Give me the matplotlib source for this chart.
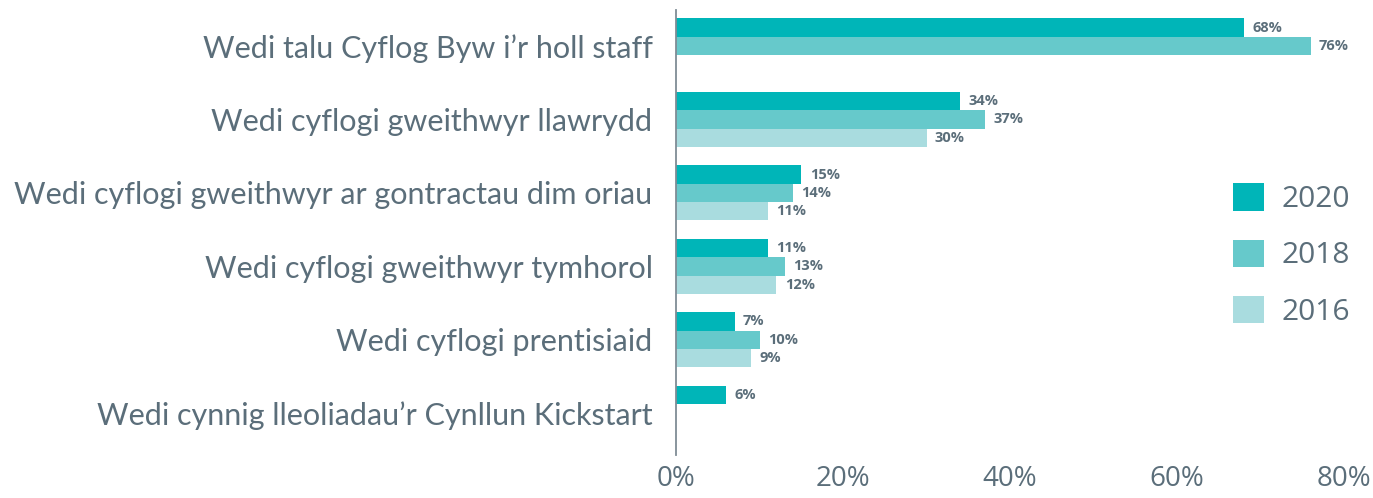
import matplotlib
matplotlib.use("Agg")
import matplotlib.pyplot as plt
from matplotlib.patches import Patch
import numpy as np

plt.rcParams['font.family'] = ['Open Sans', 'DejaVu Sans']

categories = [
    "Wedi talu Cyflog Byw i’r holl staff",
    "Wedi cyflogi gweithwyr llawrydd",
    "Wedi cyflogi gweithwyr ar gontractau dim oriau",
    "Wedi cyflogi gweithwyr tymhorol",
    "Wedi cyflogi prentisiaid",
    "Wedi cynnig lleoliadau’r Cynllun Kickstart",
]
years = ["2020", "2018", "2016"]
vals_2020 = [68, 34, 15, 11, 7, 6]
vals_2018 = [76, 37, 14, 13, 10, None]
vals_2016 = [None, 30, 11, 12, 9, None]
colors = ["#00b5b8", "#66c9cb", "#a9dcdf"]
text_col = "#5b6e7a"

fig = plt.figure(figsize=(13.73, 4.98), dpi=100)
ax = fig.add_axes([0.4925, 0.086, 0.49, 0.894])

y = np.arange(len(categories))
h = 0.25
series = [vals_2020, vals_2018, vals_2016]
for k, (vals, c) in enumerate(zip(series, colors)):
    off = (k - 1) * h
    for i, v in enumerate(vals):
        if v is None:
            continue
        ax.barh(y[i] + off, v, height=h, color=c, edgecolor='none')
        ax.annotate(f"{v}%", (v, y[i] + off), xytext=(6, 0), textcoords='offset points',
                    ha='left', va='center', fontsize=10.5, fontweight='bold', color=text_col)

ax.set_ylim(5.57, -0.49)
ax.set_xlim(0, 80.6)
ax.set_yticks(y)
ax.set_yticklabels(categories, fontsize=22, color=text_col, family=['Lato', 'DejaVu Sans'])
ax.set_xticks([0, 20, 40, 60, 80])
ax.set_xticklabels([f"{t}%" for t in [0, 20, 40, 60, 80]], fontsize=20, color=text_col)
ax.tick_params(axis='y', length=0, pad=17)
ax.tick_params(axis='x', length=0, pad=7)
for s in ['top', 'right', 'bottom']:
    ax.spines[s].set_visible(False)
ax.spines['left'].set_color('#7f8c95')
ax.spines['left'].set_linewidth(1.3)

handles = [Patch(facecolor=c, edgecolor='none') for c in colors]
fig.legend(handles, years, loc='center left', bbox_to_anchor=(1233 / 1373, 1 - 255 / 498),
           frameon=False, fontsize=21.5, handlelength=1.04, handleheight=1.04,
           handletextpad=0.6, labelspacing=0.85, borderpad=0, borderaxespad=0,
           labelcolor=text_col)

fig.savefig("out.png", dpi=100)
